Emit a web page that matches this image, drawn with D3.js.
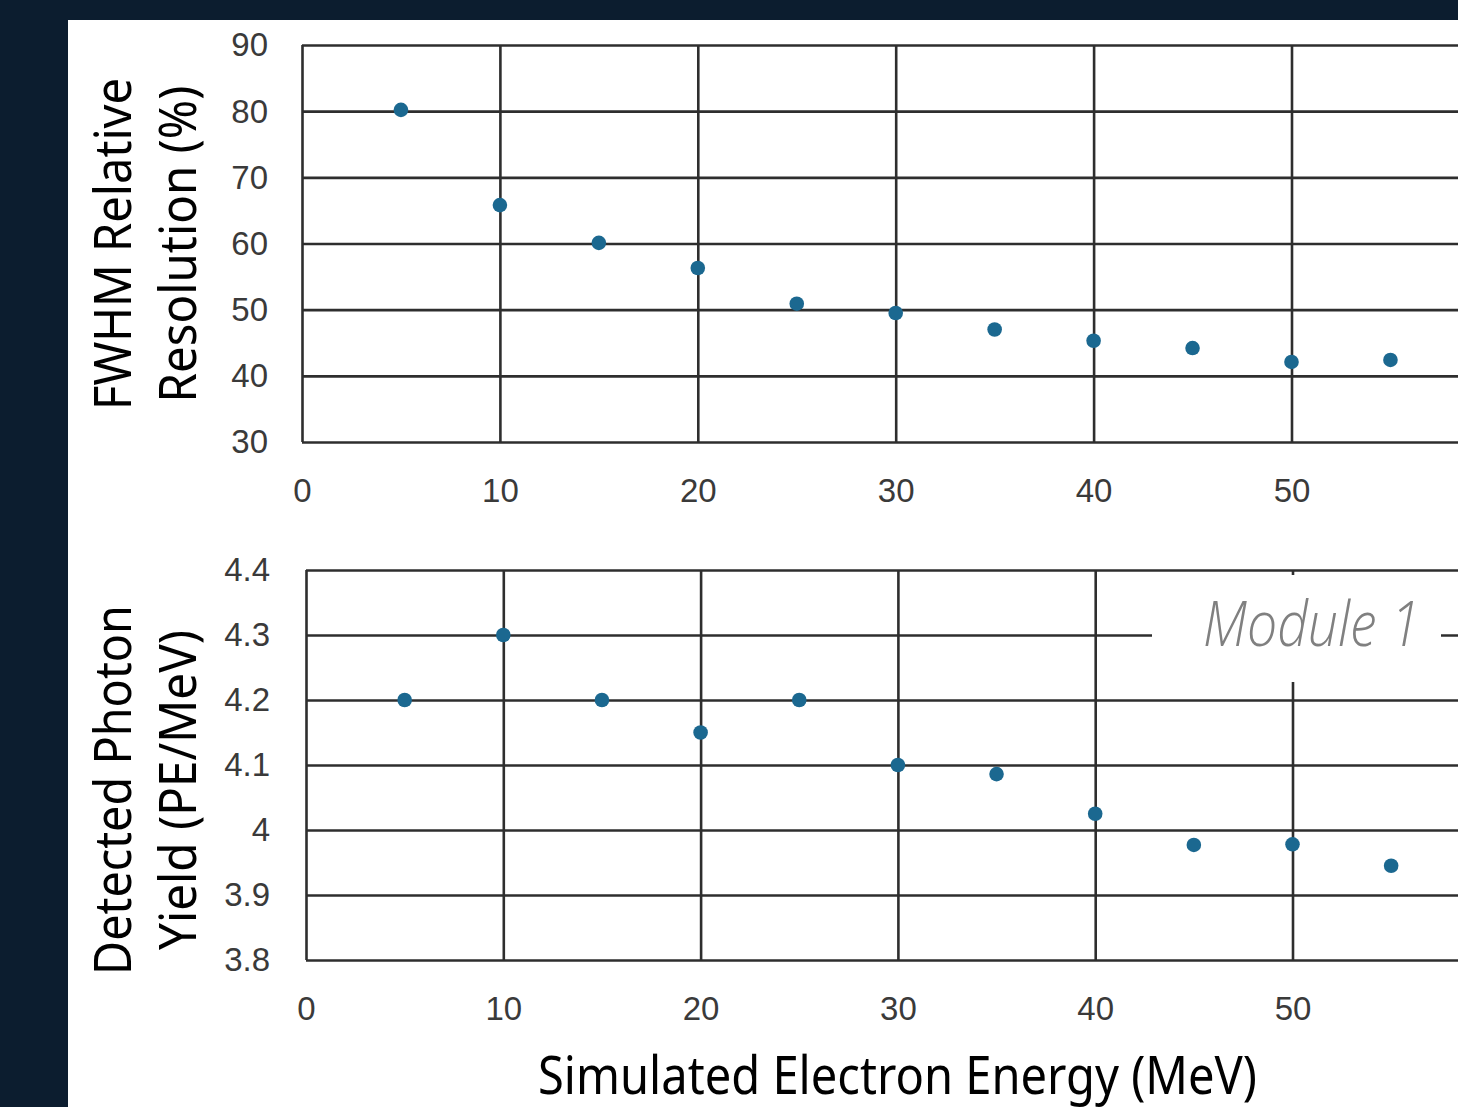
<!DOCTYPE html>
<html>
<head>
<meta charset="utf-8">
<script src="https://cdn.jsdelivr.net/npm/d3@7"></script>
<style>
  html, body { margin: 0; padding: 0; background: #0c1d2f; }
  svg { display: block; }
</style>
</head>
<body>
<svg id="chart" width="1458" height="1107"></svg>
<script>
// ---- data ----
const energies = [5, 10, 15, 20, 25, 30, 35, 40, 45, 50, 55];
const fwhmResolution = [80.2, 65.8, 60.1, 56.3, 50.9, 49.5, 47.0, 45.3, 44.2, 42.1, 42.4];
const photonYield = [4.2, 4.3, 4.2, 4.15, 4.2, 4.1, 4.086, 4.025, 3.977, 3.978, 3.945];
const xTicks = [0, 10, 20, 30, 40, 50];
const topYTicks = [30, 40, 50, 60, 70, 80, 90];
const bottomYTicks = [3.8, 3.9, 4.0, 4.1, 4.2, 4.3, 4.4];
const bottomYLabels = ["3.8", "3.9", "4", "4.1", "4.2", "4.3", "4.4"];
const topTitle = ["FWHM Relative", "Resolution (%)"];
const bottomTitle = ["Detected Photon", "Yield (PE/MeV)"];
const xTitle = "Simulated Electron Energy (MeV)";
const annotation = "Module 1";

const svg = d3.select("#chart");
const W = 1458, H = 1107;
svg.append("rect").attr("width", W).attr("height", H).attr("fill", "#0c1d2f");
svg.append("rect").attr("x", 68).attr("y", 20).attr("width", W - 68).attr("height", H - 20).attr("fill", "#ffffff");

const gridColor = "#2e2e2e";
const dotColor = "#1b6890";
const tickFont = "'Liberation Sans', Arial, sans-serif";
const titleFont = "'Noto Sans', 'Open Sans', sans-serif";

function panel(cfg) {
  const x = d3.scaleLinear().domain([0, 60]).range([cfg.left, cfg.left + 6 * cfg.step]);
  const y = d3.scaleLinear().domain(cfg.yDomain).range([cfg.bottom, cfg.top]);
  const g = svg.append("g");

  // horizontal gridlines
  const yAxis = d3.axisLeft(y).tickValues(cfg.yTicks).tickSize(-(W - cfg.left + 10))
    .tickFormat((d, i) => cfg.yLabels[i]);
  const ya = g.append("g").attr("transform", `translate(${cfg.left},0)`).call(yAxis);
  ya.select(".domain").remove();
  ya.selectAll(".tick line").attr("stroke", gridColor).attr("stroke-width", 2.6);
  ya.selectAll(".tick text")
    .attr("x", cfg.yLabelX - cfg.left)
    .attr("fill", "#3a3a3a")
    .style("font-family", tickFont).style("font-size", "33px")
    .attr("text-anchor", "end").attr("dy", "0.33em");

  // vertical gridlines
  const xAxis = d3.axisBottom(x).tickValues(xTicks).tickSize(-(cfg.bottom - cfg.top)).tickFormat(d3.format("d"));
  const xa = g.append("g").attr("transform", `translate(0,${cfg.bottom})`).call(xAxis);
  xa.select(".domain").remove();
  xa.selectAll(".tick line").attr("stroke", gridColor).attr("stroke-width", 2.6);
  xa.selectAll(".tick text")
    .attr("y", cfg.xLabelY - cfg.bottom)
    .attr("dy", "0.36em")
    .attr("fill", "#3a3a3a")
    .style("font-family", tickFont).style("font-size", "33px");

  if (cfg.annotate) cfg.annotate(g, x, y);

  // points
  g.selectAll("circle.pt").data(cfg.values).join("circle")
    .attr("class", "pt")
    .attr("cx", (d, i) => x(energies[i]))
    .attr("cy", d => y(d))
    .attr("r", 7.3)
    .attr("fill", dotColor);

  // y title (two lines, rotated)
  cfg.title.forEach((t, i) => {
    svg.append("text")
      .attr("transform", `translate(${cfg.titleX[i]},${cfg.titleCY}) rotate(-90)`)
      .attr("text-anchor", "middle")
      .attr("textLength", cfg.titleLen[i])
      .attr("lengthAdjust", "spacingAndGlyphs")
      .attr("fill", "#000")
      .style("font-family", titleFont).style("font-size", "51px")
      .text(t);
  });
}

panel({
  left: 302, step: 197.9, top: 45, bottom: 442,
  yDomain: [30, 90], yTicks: topYTicks, yLabels: topYTicks.map(String),
  yLabelX: 268, xLabelY: 490,
  values: fwhmResolution, title: topTitle, titleCY: 244,
  titleX: [131, 196], titleLen: [332, 317]
});

panel({
  left: 306, step: 197.3, top: 570, bottom: 960,
  yDomain: [3.8, 4.4], yTicks: bottomYTicks, yLabels: bottomYLabels,
  yLabelX: 270, xLabelY: 1008,
  values: photonYield, title: bottomTitle, titleCY: 790,
  titleX: [131, 196], titleLen: [370, 320],
  annotate: (g, x, y) => {
    g.append("rect").attr("x", 1152).attr("y", 575).attr("width", 289).attr("height", 107).attr("fill", "#fff");
    g.append("text")
      .attr("x", 1203).attr("y", 646)
      .attr("textLength", 217).attr("lengthAdjust", "spacingAndGlyphs")
      .attr("fill", "#808080")
      .style("font-family", "'Open Sans', sans-serif").style("font-size", "62px")
      .style("font-style", "italic").style("font-weight", 300)
      .text(annotation);
  }
});

svg.append("text")
  .attr("x", (538 + 1257) / 2).attr("y", 1094)
  .attr("text-anchor", "middle")
  .attr("textLength", 719).attr("lengthAdjust", "spacingAndGlyphs")
  .attr("fill", "#000")
  .style("font-family", titleFont).style("font-size", "52px")
  .text(xTitle);
</script>
</body>
</html>
